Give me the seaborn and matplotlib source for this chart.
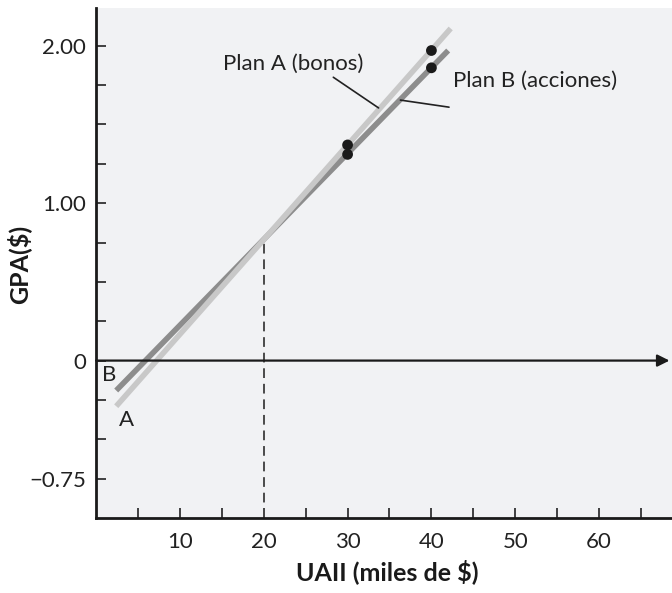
import matplotlib
matplotlib.use("Agg")
import matplotlib.pyplot as plt
from matplotlib.ticker import FixedLocator
import seaborn as sns
import pandas as pd

# EBIT range covered by each plan's line (miles de $) and EPS at its ends
ebit_line_a = [2.4, 42.3]
eps_line_a = [-0.29, 2.11]
ebit_line_b = [2.4, 42.0]
eps_line_b = [-0.19, 1.97]

# plotted financing points
ebit_points = [30, 40]
eps_points_a = [1.37, 1.97]
eps_points_b = [1.31, 1.86]

# indifference point
indiff_ebit = 20
indiff_eps = 0.77

x_major = [10, 20, 30, 40, 50, 60]
x_minor = [5, 15, 25, 35, 45, 55, 65]
y_major = [-0.75, 0, 1.00, 2.00]
y_major_labels = ["\u22120.75", "0", "1.00", "2.00"]
y_minor = [-0.5, -0.25, 0.25, 0.5, 0.75, 1.25, 1.5, 1.75]

lines = pd.concat([
    pd.DataFrame({"ebit": ebit_line_b, "eps": eps_line_b, "plan": "B"}),
    pd.DataFrame({"ebit": ebit_line_a, "eps": eps_line_a, "plan": "A"}),
])
points = pd.DataFrame({
    "ebit": ebit_points + ebit_points,
    "eps": eps_points_a + eps_points_b,
})

sns.set_style("white")
plt.rcParams["font.family"] = ["Lato", "DejaVu Sans"]

fig = plt.figure(figsize=(6.72, 5.93), dpi=100)
ax = fig.add_axes([0.143, 0.1265, 0.857, 0.86])
ax.set_facecolor("#f1f2f4")

sns.lineplot(data=lines, x="ebit", y="eps", hue="plan", hue_order=["B", "A"],
             palette={"A": "#c8c8c8", "B": "#8d8d8d"}, linewidth=4,
             legend=False, ax=ax, solid_capstyle="butt", sort=False)
sns.scatterplot(data=points, x="ebit", y="eps", color="#1a1a1a", s=60,
                edgecolor="none", zorder=5, ax=ax)

# zero line with arrow
ax.annotate("", xy=(68.4, 0), xytext=(0, 0),
            arrowprops=dict(arrowstyle="-|>", color="#1a1a1a", lw=1.6,
                            mutation_scale=18, shrinkA=0, shrinkB=0))

# dashed line from the x axis up to the indifference point
ax.plot([indiff_ebit, indiff_ebit], [-1.0, indiff_eps], color="#4a4a4a",
        lw=1.4, ls=(0, (5, 3)), zorder=1)

# line labels
ax.text(23.5, 1.885, "Plan A (bonos)", ha="center", va="center", fontsize=16, color="#222222")
ax.annotate("", xy=(33.7, 1.605), xytext=(28.3, 1.80),
            arrowprops=dict(arrowstyle="-", color="#222222", lw=1.2, shrinkA=0, shrinkB=0))
ax.text(42.6, 1.78, "Plan B (acciones)", ha="left", va="center", fontsize=16, color="#222222")
ax.annotate("", xy=(42.1, 1.61), xytext=(36.3, 1.655),
            arrowprops=dict(arrowstyle="-", color="#222222", lw=1.2, shrinkA=0, shrinkB=0))
ax.text(1.55, -0.09, "B", ha="center", va="center", fontsize=16, color="#222222")
ax.text(3.6, -0.38, "A", ha="center", va="center", fontsize=16, color="#222222")

ax.set_xlim(0, 68.7)
ax.set_ylim(-1.0, 2.24)

ax.xaxis.set_major_locator(FixedLocator(x_major))
ax.xaxis.set_minor_locator(FixedLocator(x_minor))
ax.set_xticklabels([str(v) for v in x_major])
ax.yaxis.set_major_locator(FixedLocator(y_major))
ax.yaxis.set_minor_locator(FixedLocator(y_minor))
ax.set_yticklabels(y_major_labels)

ax.tick_params(axis="both", which="both", direction="in", length=7,
               width=1.2, color="#222222", labelsize=16, labelcolor="#222222",
               left=True, bottom=True)
ax.tick_params(axis="x", which="both", pad=10)
ax.tick_params(axis="y", which="both", pad=7)

sns.despine(ax=ax)
for side in ["left", "bottom"]:
    ax.spines[side].set_color("#1a1a1a")
    ax.spines[side].set_linewidth(2)

ax.set_xlabel("UAII (miles de $)", fontsize=18, fontweight="bold", color="#1a1a1a")
ax.set_ylabel("GPA($)", fontsize=18, fontweight="bold", color="#1a1a1a")
ax.xaxis.set_label_coords(0.505, -0.106)
ax.xaxis.label.set_va("center")
ax.yaxis.set_label_coords(-0.134, 0.498)
ax.yaxis.label.set_va("center")

fig.savefig("out.png", dpi=100)
